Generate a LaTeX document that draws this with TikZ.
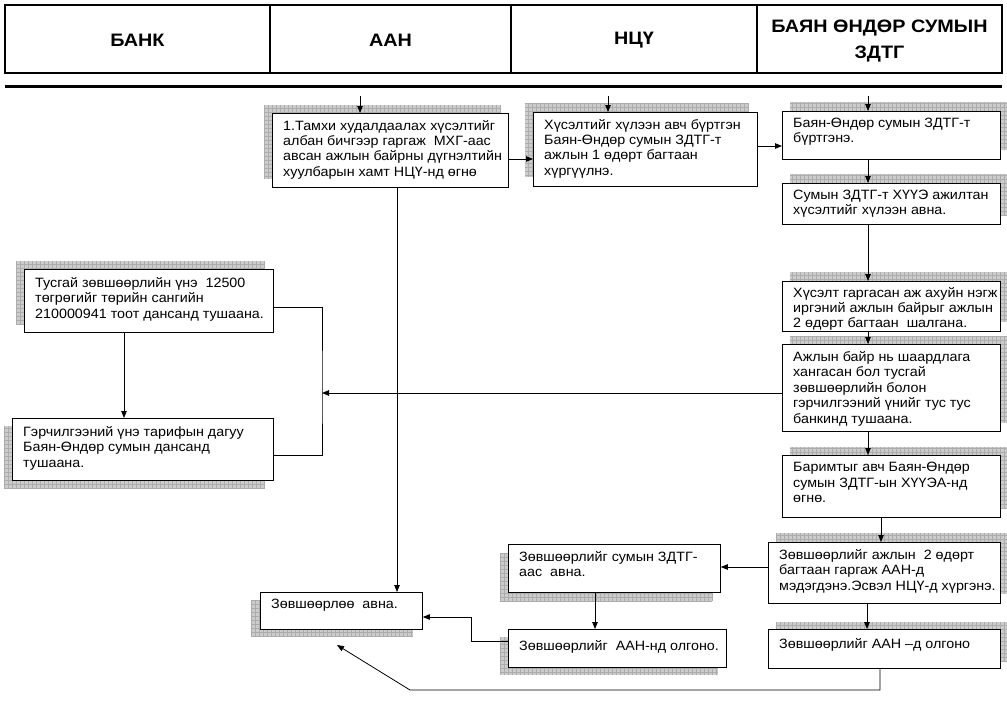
\documentclass[tikz,border=0pt]{standalone}
\usepackage{fontspec}
\setmainfont{Liberation Sans}
\newfontfamily\bodyfont[FakeStretch=1.06]{Liberation Sans}
\newfontfamily\headfont[FakeStretch=1.1]{Liberation Sans}
\usetikzlibrary{arrows.meta}
\tikzset{
  box/.style={draw=black, fill=white, line width=0.8pt, inner sep=0pt, anchor=north west},
  btext/.style={anchor=north west, inner sep=0pt, align=left},
  shadowfill/.style={fill=gray!40},
  shadowgrid/.style={draw=gray!65, line width=0.4pt},
  conn/.style={line width=0.8pt},
  arr/.style={conn, -{Triangle[length=7pt,width=5.5pt]}},
  htext/.style={font=\headfont\bfseries\fontsize{18}{26}\selectfont, align=center},
  hline/.style={line width=1.2pt},
}
% #1 name, #2 x1, #3 y1, #4 x2, #5 y2, #6 shadow shift, #7 baselineskip, #8 text drop, #9 text
\newcommand\flowbox[9]{%
  \fill[shadowfill, shift={(#6)}] (#2,#3) rectangle (#4,#5);
  \draw[shadowgrid, step=4pt, shift={(#6)}] (#2,#5) grid (#4,#3);
  \node[box, minimum width={#4pt-#2pt}, minimum height={#5pt-#3pt}] (#1) at (#2,#3) {};
  \node[btext, font=\bodyfont\fontsize{13.5}{#7}\selectfont] (#1t) at ([shift={(11pt,-#8pt)}]#1.north west) {#9};
}
\begin{document}
\begin{tikzpicture}[x=1pt,y=-1pt]
\useasboundingbox[fill=white] (0,0) rectangle (1007,704);
% header
\draw[hline] (5,5) rectangle (1002,73);
\draw[hline] (270,5)--(270,73) (511,5)--(511,73) (757,5)--(757,73);
\node[htext] (h1) at (137.5,40) {БАНК};
\node[htext] (h2) at (390.5,40) {ААН};
\node[htext] (h3) at (634,40) {НЦҮ};
\node[htext] (h4) at (879.5,41) {БАЯН ӨНДӨР СУМЫН\\ЗДТГ};
\draw[line width=3pt] (5,86)--(1002,86);

% boxes
\flowbox{A}{272}{113}{508}{187}{-8,-8}{15.3}{7}{1.Тамхи худалдаалах хүсэлтийг\\албан бичгээр гаргаж\ \ МХГ-аас\\авсан ажлын байрны дүгнэлтийн\\хуулбарын хамт НЦҮ-нд өгнө}
\flowbox{B}{533}{112}{757}{186}{-8,-9}{15.3}{7}{Хүсэлтийг хүлээн авч бүртгэн\\Баян-Өндөр сумын ЗДТГ-т\\ажлын 1 өдөрт багтаан\\хүргүүлнэ.}
\flowbox{C}{782}{111}{1000}{159}{8,-9}{15.3}{7}{Баян-Өндөр сумын ЗДТГ-т\\бүртгэнэ.}
\flowbox{D}{782}{183}{1000}{224}{8,-9}{15.3}{7}{Сумын ЗДТГ-т ХҮҮЭ ажилтан\\хүсэлтийг хүлээн авна.}
\flowbox{E}{782}{281}{1000}{331}{8,-9}{15.3}{6}{Хүсэлт гаргасан аж ахуйн нэгж\\иргэний ажлын байрыг ажлын\\2 өдөрт багтаан\ \ шалгана.}
\flowbox{F}{782}{344}{1000}{431}{8,-8}{15.5}{7}{Ажлын байр нь шаардлага\\хангасан бол тусгай\\зөвшөөрлийн болон\\гэрчилгээний үнийг тус тус\\банкинд тушаана.}
\flowbox{G}{782}{455}{1000}{517}{8,-8}{15.5}{7}{Баримтыг авч Баян-Өндөр\\сумын ЗДТГ-ын ХҮҮЭА-нд\\өгнө.}
\flowbox{H}{768}{542}{1000}{603}{8,-9}{15.5}{7}{Зөвшөөрлийг ажлын\ \ 2 өдөрт\\багтаан гаргаж ААН-д\\мэдэгдэнэ.Эсвэл НЦҮ-д хүргэнэ.}
\flowbox{I}{768}{629}{1000}{668}{8,-7}{15}{9}{Зөвшөөрлийг ААН –д олгоно}
\flowbox{T}{24}{269}{273}{332}{-8,-8}{15.5}{8}{Тусгай зөвшөөрлийн үнэ\ \ 12500\\төгрөгийг төрийн сангийн\\210000941 тоот дансанд тушаана.}
\flowbox{R}{12}{418}{273}{480}{-8,8}{15.5}{8}{Гэрчилгээний үнэ тарифын дагуу\\Баян-Өндөр сумын дансанд\\тушаана.}
\flowbox{Z}{260}{592}{422}{629}{-9,8}{15}{7}{Зөвшөөрлөө\ \ авна.}
\flowbox{S}{508}{544}{720}{592}{-8,9}{15.5}{7}{Зөвшөөрлийг сумын ЗДТГ-\\аас\ \ авна.}
\flowbox{O}{508}{629}{726}{667}{-8,8}{15}{11}{Зөвшөөрлийг\ \ ААН-нд олгоно.}

% connectors
\coordinate (tA) at (360,96);
\coordinate (tB) at (608,96);
\coordinate (tC) at (868,96);
\draw[arr] (tA) -- (tA |- A.north);
\draw[arr] (tB) -- (tB |- B.north);
\draw[arr] (tC) -- (tC |- C.north);
\coordinate (yAB) at (0,159);
\coordinate (yBC) at (0,146);
\draw[arr] (A.east |- yAB) -- (B.west |- yAB);
\draw[arr] (B.east |- yBC) -- (C.west |- yBC);
\coordinate (xR) at (868,0);
\coordinate (xR2) at (881,0);
\coordinate (xR3) at (867,0);
\draw[arr] (C.south -| xR) -- (D.north -| xR);
\draw[arr] (D.south -| xR) -- (E.north -| xR);
\draw[arr] (E.south -| xR) -- (F.north -| xR);
\draw[arr] (F.south -| xR) -- (G.north -| xR);
\draw[arr] (G.south -| xR2) -- (H.north -| xR2);
\draw[arr] (H.south -| xR3) -- (I.north -| xR3);
% to banks
\coordinate (jB) at (322,393);
\draw[arr] (F.west |- jB) -- (jB);
\coordinate (xT) at (124,0);
\draw[arr] (T.south -| xT) -- (R.north -| xT);
\coordinate (yT) at (0,307);
\coordinate (yR) at (0,455);
\draw[conn] (T.east |- yT) -| (jB) |- (R.east |- yR);
% permits
\coordinate (xAZ) at (397,0);
\draw[arr] (A.south -| xAZ) -- (Z.north -| xAZ);
\coordinate (yHS) at (0,567);
\draw[arr] (H.west |- yHS) -- (S.east |- yHS);
\coordinate (xSO) at (595,0);
\draw[arr] (S.south -| xSO) -- (O.north -| xSO);
\coordinate (kO) at (471,641);
\coordinate (yOZ) at (0,617);
\draw[arr] (O.west |- kO) -- (kO) |- (Z.east |- yOZ);
\coordinate (xI) at (880,0);
\coordinate (bL) at (410,690);
\coordinate (tip) at (337,645);
\draw[arr] (I.south -| xI) |- (bL) -- (tip);
\end{tikzpicture}
\end{document}
